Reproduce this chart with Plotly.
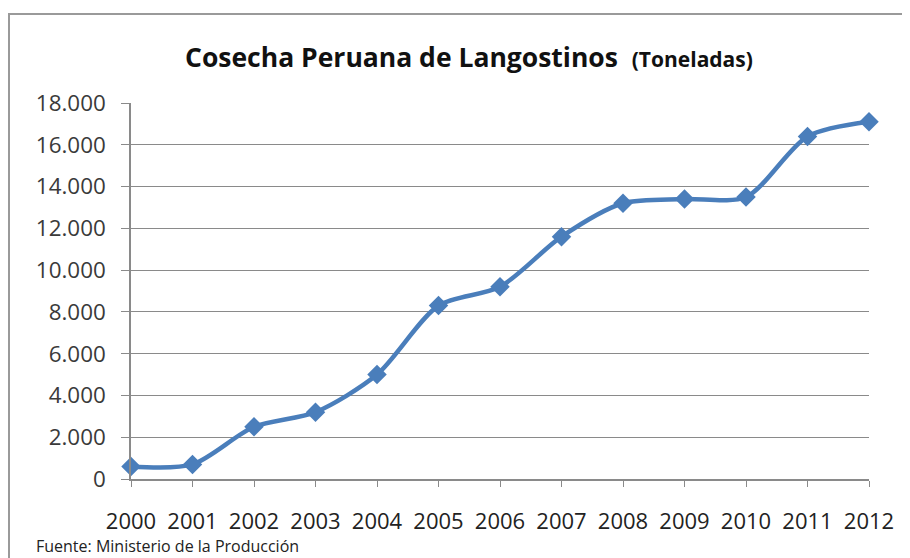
import plotly.graph_objects as go

years = [2000, 2001, 2002, 2003, 2004, 2005, 2006, 2007, 2008, 2009, 2010, 2011, 2012]
toneladas = [600, 700, 2500, 3200, 5000, 8300, 9200, 11600, 13200, 13400, 13500, 16400, 17100]
y_ticks = [0, 2000, 4000, 6000, 8000, 10000, 12000, 14000, 16000, 18000]
y_tick_labels = ["0", "2.000", "4.000", "6.000", "8.000", "10.000", "12.000", "14.000", "16.000", "18.000"]
x_tick_labels = [str(y) for y in years]

title_main = "Cosecha Peruana de Langostinos"
title_unit = "(Toneladas)"
source_note = "Fuente: Ministerio de la Producción"

# page body has an 8px margin, so the figure starts at (8, 8) on screen
OFF = 8
W, H = 910 - OFF, 558 - OFF
L, R, T, B = 131 - OFF, 41, 103 - OFF, 79
pw, ph = W - L - R, H - T - B

def px(x):
    return (x - OFF - L) / pw

def py(y):
    return (H - B - (y - OFF)) / ph

FONT = "Open Sans"
BLUE = "#4a7ebb"

fig = go.Figure()
fig.add_trace(go.Scatter(
    x=years, y=toneladas, mode="lines+markers",
    line=dict(color=BLUE, width=4.5, shape="spline", smoothing=0.8),
    marker=dict(symbol="diamond", size=15, color=BLUE),
    cliponaxis=False, showlegend=False,
))

fig.update_layout(
    width=W, height=H,
    margin=dict(l=L, r=R, t=T, b=B, pad=0),
    paper_bgcolor="white", plot_bgcolor="white",
    font=dict(family=FONT, color="#333333"),
    xaxis=dict(
        range=[2000, 2012], tickvals=years, ticktext=x_tick_labels,
        showgrid=False, zeroline=False,
        showline=True, linecolor="#8a8a8a", linewidth=1.5,
        ticks="outside", ticklen=6, tickcolor="#8a8a8a", tickwidth=1.2,
        ticklabelstandoff=16,
        tickfont=dict(size=22, color="#222222", family=FONT),
    ),
    yaxis=dict(
        range=[0, 18000], tickvals=y_ticks, ticktext=y_tick_labels,
        showgrid=True, gridcolor="#8a8a8a", gridwidth=1.3,
        zeroline=False,
        showline=True, linecolor="#8a8a8a", linewidth=1.5,
        ticks="outside", ticklen=8, tickcolor="#8a8a8a", tickwidth=1.2,
        ticklabelstandoff=11,
        tickfont=dict(size=22.4, color="#3a3a3a", family=FONT),
    ),
    shapes=[dict(
        type="rect", xref="paper", yref="paper",
        x0=px(9), x1=px(920), y0=py(14), y1=py(570),
        line=dict(color="#9a9a9a", width=2), layer="below",
    )],
    annotations=[
        dict(
            xref="paper", yref="paper", x=px(183), y=py(57),
            xanchor="left", yanchor="middle", showarrow=False,
            text=f"<b>{title_main}</b>  <b><span style='font-size:21px'>{title_unit}</span></b>",
            font=dict(size=26.5, color="#111111", family=FONT),
        ),
        dict(
            xref="paper", yref="paper", x=px(34), y=py(546),
            xanchor="left", yanchor="middle", showarrow=False,
            text=source_note,
            font=dict(size=16, color="#222222", family=FONT),
        ),
    ],
)

fig.write_html("out.html")
